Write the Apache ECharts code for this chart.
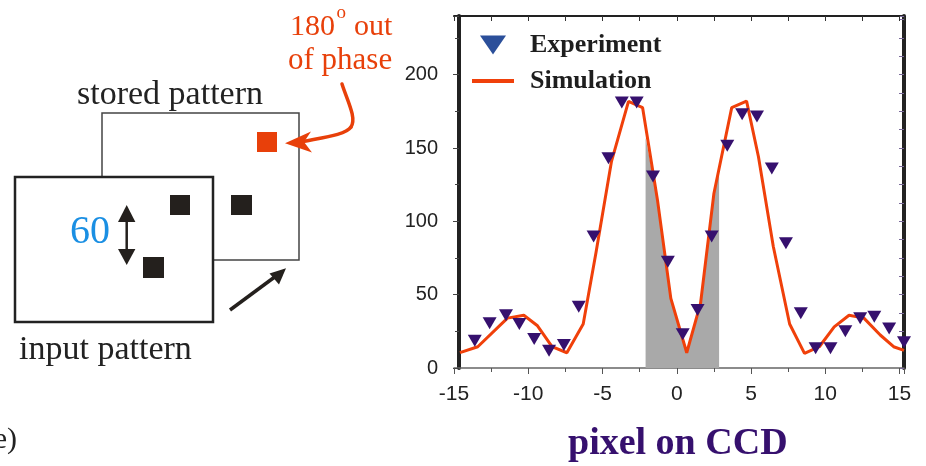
<!DOCTYPE html>
<html>
<head>
<meta charset="utf-8">
<script src="https://cdn.jsdelivr.net/npm/echarts@6/dist/echarts.min.js"></script>
<style>
html, body { margin: 0; padding: 0; background: #fff; }
#chart { width: 926px; height: 466px; }
</style>
</head>
<body>
<div id="chart"></div>
<script>
// experiment (triangles)
var expX = [-13.6, -12.6, -11.5, -10.6, -9.6, -8.6, -7.6, -6.6, -5.6, -4.6, -3.7, -2.7, -1.6, -0.6, 0.4,
            1.4, 2.35, 3.4, 4.4, 5.4, 6.4, 7.35, 8.35, 9.35, 10.35, 11.35, 12.35, 13.3, 14.3, 15.3];
var expY = [18.6, 30.5, 36, 30, 19.8, 11.8, 15.7, 41.8, 89.6, 143, 181, 181, 130.5, 72.5, 23,
            39.6, 89.6, 151.5, 173, 171.4, 136, 85, 37.3, 13.4, 13.4, 25, 34, 35, 27, 17.5];
// simulation (line)
var simX = [-14.6, -13.4, -11.4, -10.3, -9.4, -8.4, -7.4, -6.3, -5.45, -4.4, -3.25, -2.3, -1.3, -0.4, 0.67,
            1.6, 2.5, 3.7, 4.7, 5.5, 6.5, 7.6, 8.6, 9.6, 10.6, 11.6, 12.6, 13.7, 14.6, 15.3];
var simY = [10.5, 14.5, 34, 36, 29, 14.5, 10.4, 30, 78, 140.7, 181.8, 177.5, 114.6, 47.5, 10.4,
            44, 119, 177.5, 182, 144, 82.8, 30, 10, 14.5, 28, 36, 34, 22.5, 14.5, 12];
// grey shaded band under the simulation curve
var shadeX = [-2.1, -1.3, -0.4, 0.67, 1.6, 2.5, 2.85];
var shadeY = [157, 114.6, 47.5, 10.4, 44, 119, 135];

var xTicks = [-15, -10, -5, 0, 5, 10, 15];
var yTicks = [0, 50, 100, 150, 200];

function pairs(xs, ys) {
    var out = [];
    for (var i = 0; i < xs.length; i++) out.push([xs[i], ys[i]]);
    return out;
}

var SERIF = '"Liberation Serif", "Times New Roman", serif';
var SANS = '"Liberation Sans", Arial, sans-serif';
var RED = '#e8400a';
var INK = '#24201d';

var chart = echarts.init(document.getElementById('chart'));

var option = {
    backgroundColor: '#fff',
    animation: false,
    grid: { left: 454, top: 16, width: 450, height: 352 },
    legend: [
        {
            data: [{ name: 'Experiment', icon: 'path://M0,0L26,0L13,19Z', itemStyle: { color: '#2b4f9a', opacity: 1 } }],
            left: 475, top: 27, itemWidth: 26, itemHeight: 19, selectedMode: false,
            textStyle: { fontFamily: SERIF, fontWeight: 'bold', fontSize: 26, color: '#1e1e1e', padding: [0, 0, 0, 19] }
        },
        {
            data: [{ name: 'Simulation', icon: 'rect' }],
            left: 467, top: 63, itemWidth: 42, itemHeight: 4, selectedMode: false,
            textStyle: { fontFamily: SERIF, fontWeight: 'bold', fontSize: 26, color: '#1e1e1e', padding: [0, 0, 0, 11] }
        }
    ],
    xAxis: [
        {
            type: 'value', position: 'bottom', min: -15, max: 15.3, interval: 5,
            axisLine: { show: true, onZero: false, lineStyle: { color: '#666', width: 1.5 } },
            axisTick: { show: true, length: 6, lineStyle: { color: '#555' } },
            minorTick: { show: true, splitNumber: 2, length: 4, lineStyle: { color: '#555' } },
            splitLine: { show: false },
            axisLabel: {
                margin: 16, fontSize: 21, color: '#222', fontFamily: SANS,
                formatter: function (v) { return xTicks.indexOf(v) >= 0 ? String(v) : ''; }
            }
        },
        {
            type: 'value', position: 'top', min: -15, max: 15.3, interval: 2.5,
            axisLine: { show: true, onZero: false, lineStyle: { color: '#222', width: 2 } },
            axisTick: { show: true, inside: true, length: 5, lineStyle: { color: '#333' } },
            axisLabel: { show: false },
            splitLine: { show: false }
        }
    ],
    yAxis: [
        {
            type: 'value', position: 'left', min: 0, max: 240, interval: 50, offset: -5,
            axisLine: { show: true, onZero: false, lineStyle: { color: '#222', width: 4 } },
            axisTick: { show: true, length: 6, lineStyle: { color: '#444' } },
            minorTick: { show: true, splitNumber: 2, length: 4, lineStyle: { color: '#444' } },
            splitLine: { show: false },
            axisLabel: {
                margin: 21, fontSize: 20, color: '#222', fontFamily: SANS,
                formatter: function (v) { return yTicks.indexOf(v) >= 0 ? String(v) : ''; }
            }
        },
        {
            type: 'value', position: 'right', min: 0, max: 240, interval: 12.5,
            axisLine: { show: true, onZero: false, lineStyle: { color: '#222', width: 4 } },
            axisTick: { show: true, inside: true, length: 5, lineStyle: { color: '#7a6a9a' } },
            axisLabel: { show: false },
            splitLine: { show: false }
        }
    ],
    series: [
        {
            name: 'shade', type: 'line', data: pairs(shadeX, shadeY), showSymbol: false, symbol: 'none',
            lineStyle: { width: 0 }, areaStyle: { color: '#a9a9a9', opacity: 1 }, z: 1, silent: true
        },
        {
            name: 'Simulation', type: 'line', data: pairs(simX, simY), showSymbol: false, symbol: 'none',
            color: '#f0400a', lineStyle: { color: '#f0400a', width: 3 }, z: 3
        },
        {
            name: 'Experiment', type: 'scatter', data: pairs(expX, expY),
            symbol: 'triangle', symbolRotate: 180, symbolSize: [14, 12],
            itemStyle: { color: '#36106e', opacity: 1 }, z: 4
        }
    ],
    graphic: [
        // stored pattern frame (behind)
        { type: 'rect', shape: { x: 102, y: 113, width: 197, height: 147 }, style: { fill: '#fff', stroke: '#444', lineWidth: 1.5 } },
        // input pattern frame (front)
        { type: 'rect', shape: { x: 15, y: 177, width: 198, height: 145 }, style: { fill: '#fff', stroke: '#222', lineWidth: 2.5 } },
        { type: 'rect', shape: { x: 257, y: 132, width: 20, height: 20 }, style: { fill: RED } },
        { type: 'rect', shape: { x: 170, y: 195, width: 20, height: 20 }, style: { fill: INK } },
        { type: 'rect', shape: { x: 231, y: 195, width: 21, height: 20 }, style: { fill: INK } },
        { type: 'rect', shape: { x: 143, y: 257, width: 21, height: 21 }, style: { fill: INK } },
        // double arrow
        { type: 'line', shape: { x1: 126.7, y1: 218, x2: 126.7, y2: 252 }, style: { stroke: INK, lineWidth: 2.5 } },
        { type: 'polygon', shape: { points: [[126.7, 205], [118, 222], [135.4, 222]] }, style: { fill: INK } },
        { type: 'polygon', shape: { points: [[118, 249], [135.4, 249], [126.7, 265]] }, style: { fill: INK } },
        // diagonal arrow
        { type: 'line', shape: { x1: 230, y1: 310, x2: 276, y2: 276 }, style: { stroke: INK, lineWidth: 3.5 } },
        { type: 'polygon', shape: { points: [[286, 268.3], [269.5, 273.5], [279, 284.5]] }, style: { fill: INK } },
        // red curved arrow
        { type: 'bezierCurve', shape: { x1: 342, y1: 84, cpx1: 347, cpy1: 100, cpx2: 357, cpy2: 118, x2: 351, y2: 127 },
          style: { stroke: RED, lineWidth: 3.5, fill: null, lineCap: 'round' } },
        { type: 'bezierCurve', shape: { x1: 351, y1: 127, cpx1: 346, cpy1: 134.5, cpx2: 326, cpy2: 137, x2: 303, y2: 141.5 },
          style: { stroke: RED, lineWidth: 3.5, fill: null, lineCap: 'round' } },
        { type: 'polygon', shape: { points: [[285, 143.3], [311, 131.5], [304, 142], [312, 152.5]] }, style: { fill: RED } },
        // texts
        { type: 'text', x: 290, y: 27, style: { text: '180', font: '30px ' + SERIF, fill: RED, verticalAlign: 'middle' } },
        { type: 'text', x: 336.5, y: 13, style: { text: 'o', font: '19px ' + SERIF, fill: RED, verticalAlign: 'middle' } },
        { type: 'text', x: 354, y: 27, style: { text: 'out', font: '30px ' + SERIF, fill: RED, verticalAlign: 'middle' } },
        { type: 'text', x: 288, y: 61, style: { text: 'of phase', font: '31px ' + SERIF, fill: RED, verticalAlign: 'middle' } },
        { type: 'text', x: 77, y: 95, style: { text: 'stored pattern', font: '34px ' + SERIF, fill: '#222', verticalAlign: 'middle' } },
        { type: 'text', x: 19, y: 350, style: { text: 'input pattern', font: '34px ' + SERIF, fill: '#222', verticalAlign: 'middle' } },
        { type: 'text', x: 70, y: 232, style: { text: '60', font: '40px ' + SERIF, fill: '#1a8fe3', verticalAlign: 'middle' } },
        { type: 'text', x: 17, y: 440, style: { text: '(e)', font: '30px ' + SERIF, fill: '#222', align: 'right', verticalAlign: 'middle' } },
        { type: 'text', x: 568, y: 444, style: { text: 'pixel on CCD', font: 'bold 38px ' + SERIF, fill: '#36106e', verticalAlign: 'middle' } }
    ]
};

chart.setOption(option);
</script>
</body>
</html>
